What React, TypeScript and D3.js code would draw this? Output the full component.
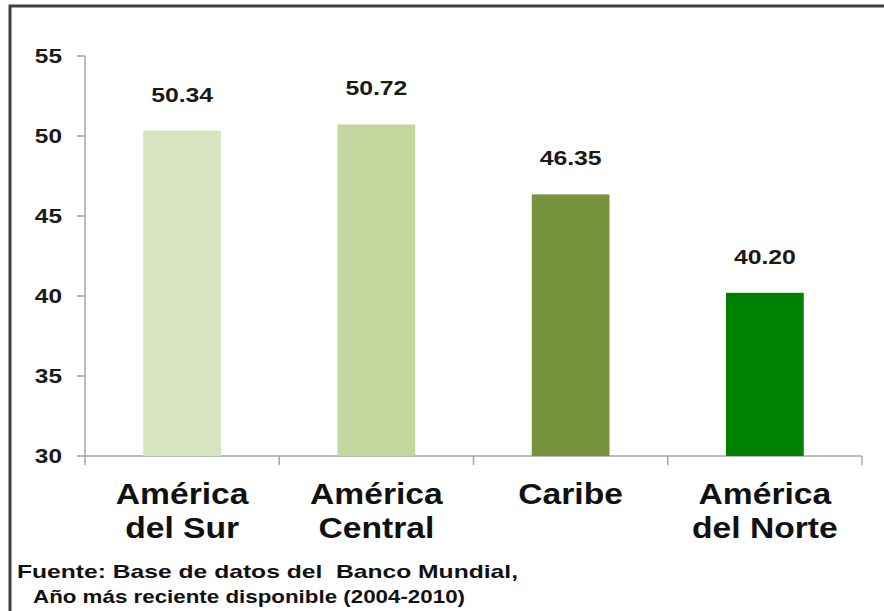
import React from 'react';
import * as d3 from 'd3';

// Chart data
const categories = ['América del Sur', 'América Central', 'Caribe', 'América del Norte'];
const categoryLines = [['América', 'del Sur'], ['América', 'Central'], ['Caribe'], ['América', 'del Norte']];
const values = [50.34, 50.72, 46.35, 40.2];
const barColors = ['#d7e4bd', '#c3d69b', '#77933c', '#008000'];
const yTicks = [30, 35, 40, 45, 50, 55];
const sourceLines = ['Fuente: Base de datos del  Banco Mundial,', 'Año más reciente disponible (2004-2010)'];

const width = 884;
const height = 611;
const margin = { top: 56, right: 22, bottom: 155, left: 85 };
const font = 'Arial, "Liberation Sans", Helvetica, sans-serif';
const sx = 1.18; // text in the source looks slightly stretched

const App = () => {
  const x = d3
    .scaleBand()
    .domain(categories)
    .range([margin.left, width - margin.right])
    .paddingInner(0.6)
    .paddingOuter(0.3);

  const y = d3
    .scaleLinear()
    .domain([30, 55])
    .range([height - margin.bottom, margin.top]);

  const y0 = y(30);
  const step = x.step();
  const tickXs = d3.range(categories.length + 1).map((i) => margin.left + i * step);

  return (
    <svg width={width} height={height} style={{ position: 'absolute', left: 0, top: 0, background: '#fff' }}>
      {/* frame */}
      <rect x={10} y={6} width={width + 20} height={height + 20} fill="#fff" stroke="#404040" strokeWidth={3} />

      {/* y axis */}
      <line x1={margin.left} x2={margin.left} y1={y(55)} y2={y0} stroke="#a6a6a6" strokeWidth={1.5} />
      {yTicks.map((t) => (
        <g key={t}>
          <line x1={margin.left - 8} x2={margin.left} y1={y(t)} y2={y(t)} stroke="#a6a6a6" strokeWidth={1.5} />
          <text
            transform={`translate(62,${y(t) + 7}) scale(1.22,1)`}
            textAnchor="end"
            fontFamily={font}
            fontWeight="bold"
            fontSize={20}
            fill="#1a1a1a"
          >
            {t}
          </text>
        </g>
      ))}

      {/* x axis */}
      <line x1={margin.left} x2={width - margin.right} y1={y0} y2={y0} stroke="#a6a6a6" strokeWidth={1.5} />
      {tickXs.map((tx, i) => (
        <line key={i} x1={tx} x2={tx} y1={y0} y2={y0 + 9} stroke="#a6a6a6" strokeWidth={1.5} />
      ))}

      {/* bars */}
      {categories.map((c, i) => (
        <rect
          key={c}
          x={x(c)}
          y={y(values[i])}
          width={x.bandwidth()}
          height={y0 - y(values[i])}
          fill={barColors[i]}
        />
      ))}

      {/* value labels */}
      {categories.map((c, i) => (
        <text
          key={c}
          transform={`translate(${(x(c) as number) + x.bandwidth() / 2},${y(values[i]) - 29}) scale(${sx},1)`}
          textAnchor="middle"
          fontFamily={font}
          fontWeight="bold"
          fontSize={21}
          fill="#1a1a1a"
        >
          {values[i].toFixed(2)}
        </text>
      ))}

      {/* category labels */}
      {categories.map((c, i) =>
        categoryLines[i].map((line, j) => (
          <text
            key={c + j}
            transform={`translate(${(x(c) as number) + x.bandwidth() / 2},${504 + j * 34}) scale(1.16,1)`}
            textAnchor="middle"
            fontFamily={font}
            fontWeight="bold"
            fontSize={29}
            fill="#111"
          >
            {line}
          </text>
        ))
      )}

      {/* source note */}
      <text x={17} y={578} textLength={501} lengthAdjust="spacingAndGlyphs" fontFamily={font} fontWeight="bold" fontSize={18.5} fill="#111" style={{ whiteSpace: 'pre' }}>
        {sourceLines[0]}
      </text>
      <text x={33} y={603} textLength={432} lengthAdjust="spacingAndGlyphs" fontFamily={font} fontWeight="bold" fontSize={18.5} fill="#111">
        {sourceLines[1]}
      </text>
    </svg>
  );
};

export default App;
